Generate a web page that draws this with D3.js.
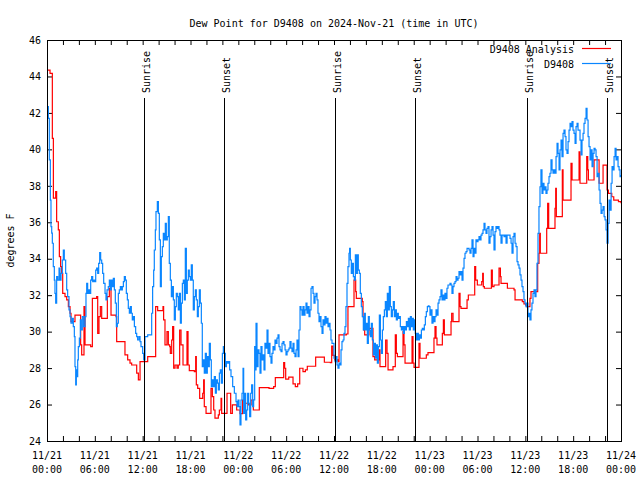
<!DOCTYPE html>
<html>
<head>
<meta charset="utf-8">
<script src="https://cdn.jsdelivr.net/npm/d3@7"></script>
<style>
  body { margin: 0; background: #fff; }
  svg { display: block; }
  text { font-family: "DejaVu Sans Mono", monospace; font-size: 10px; fill: #000; }
</style>
</head>
<body>
<svg id="chart" width="640" height="480"></svg>
<script>
// ---------- data ----------
const chartTitle = "Dew Point for D9408 on 2024-Nov-21 (time in UTC)";
const yAxisLabel = "degrees F";
const seriesNames = ["D9408 Analysis", "D9408"];

// hours since 2024-11-21 00:00 UTC
const xTickHours = [0, 6, 12, 18, 24, 30, 36, 42, 48, 54, 60, 66, 72];
const xTickDates = ["11/21","11/21","11/21","11/21","11/22","11/22","11/22","11/22","11/23","11/23","11/23","11/23","11/24"];
const xTickTimes = ["00:00","06:00","12:00","18:00","00:00","06:00","12:00","18:00","00:00","06:00","12:00","18:00","00:00"];
const xMinorTickHours = d3.range(0, 73, 2);
const yTicks = [24, 26, 28, 30, 32, 34, 36, 38, 40, 42, 44, 46];

const sunEventNames = ["Sunrise", "Sunset", "Sunrise", "Sunset", "Sunrise", "Sunset"];
const sunEventHours = [12.17, 22.2, 36.15, 46.18, 60.2, 70.24];

// D9408 Analysis  [hour, dew point F]
const analysisPoints = [
[0.00,44.35],[0.38,44.17],[0.67,40.60],[0.80,37.32],[1.09,37.68],[1.21,36.03],[1.42,35.58],[1.55,34.11],[1.71,33.57],[1.84,33.20],
[1.97,32.10],[2.26,31.92],[2.47,31.74],[2.68,31.37],[2.89,31.01],[3.01,30.55],[3.51,30.91],[4.22,29.27],[4.35,28.72],[4.64,31.37],
[4.77,29.27],[5.48,29.18],[5.69,31.83],[6.23,31.92],[6.36,29.91],[6.52,30.82],[6.69,31.37],[6.86,30.73],[7.57,31.92],[7.82,32.38],
[8.03,30.91],[8.66,30.82],[8.74,29.45],[9.78,28.72],[10.12,28.45],[10.41,28.27],[10.62,28.17],[11.25,27.72],[11.46,27.35],[11.67,28.35],
[11.79,28.35],[12.63,28.63],[13.63,31.37],[13.88,31.15],[14.55,31.37],[14.63,30.64],[14.80,29.27],[15.05,30.00],[15.22,29.27],[15.39,29.18],
[15.47,28.81],[15.64,29.54],[15.76,30.27],[15.89,27.99],[16.06,28.17],[16.31,27.99],[16.47,28.17],[16.64,30.09],[16.81,29.27],[17.06,28.17],
[17.56,30.00],[17.69,28.17],[17.85,27.86],[18.48,27.81],[18.65,28.63],[18.73,27.08],[18.90,26.89],[19.15,26.34],[19.53,26.62],[19.65,27.35],
[19.73,25.89],[19.95,25.52],[20.57,26.89],[20.74,26.43],[20.91,25.70],[21.07,25.25],[21.49,25.43],[21.62,25.70],[21.83,26.34],[21.91,25.52],
[22.58,26.62],[23.04,25.52],[23.25,25.98],[23.79,25.70],[24.21,25.50],[24.54,26.25],[24.84,26.07],[25.30,25.98],[25.60,26.25],[25.88,25.70],
[26.63,26.93],[27.85,26.89],[28.43,26.98],[28.64,27.48],[29.69,28.30],[29.81,27.99],[29.94,27.39],[30.32,27.50],[30.86,27.13],[31.15,26.98],
[31.44,27.13],[31.70,27.99],[32.11,27.81],[32.41,27.90],[32.65,28.10],[33.70,28.60],[34.79,28.32],[35.54,28.30],[35.71,29.21],[35.87,28.70],
[36.08,28.45],[36.50,28.35],[36.63,29.82],[37.55,29.87],[37.75,31.37],[38.51,32.83],[38.72,32.19],[38.80,31.83],[39.55,31.65],[39.64,30.82],
[39.72,30.09],[39.85,29.82],[40.39,30.18],[40.89,28.63],[41.10,28.45],[41.65,29.00],[41.77,28.08],[42.48,29.54],[42.65,28.81],[42.78,27.90],
[43.40,28.08],[43.69,29.82],[43.82,28.81],[43.95,28.63],[44.66,30.00],[44.78,29.27],[44.91,28.27],[45.79,29.73],[45.91,28.27],[46.04,28.04],
[46.66,29.36],[46.79,28.54],[47.58,28.72],[47.79,28.85],[48.54,29.64],[48.67,30.27],[48.80,29.64],[48.92,29.27],[49.59,29.91],[49.72,30.64],
[49.84,29.82],[50.68,30.55],[50.76,31.01],[50.93,30.55],[51.68,32.10],[51.81,31.37],[51.93,31.28],[52.69,31.74],[52.85,32.01],[53.65,33.57],
[53.77,32.83],[53.98,32.56],[54.53,32.74],[54.65,33.20],[54.73,32.47],[54.86,32.38],[55.74,33.38],[55.86,32.47],[56.07,32.56],[56.70,33.48],
[56.87,33.02],[56.95,32.65],[57.75,32.38],[58.58,32.29],[58.71,31.74],[59.62,31.65],[59.83,31.52],[60.04,31.46],[60.17,31.37],[60.58,31.83],
[60.71,32.19],[61.55,33.75],[61.71,34.30],[61.80,35.39],[61.88,34.30],[62.68,35.67],[62.80,37.04],[62.93,35.67],[63.72,36.77],[63.81,37.86],
[63.89,36.31],[64.64,38.87],[64.73,37.22],[65.73,39.23],[65.86,38.32],[66.74,39.87],[66.86,38.14],[67.70,39.60],[67.83,38.87],[67.91,38.32],
[68.62,39.42],[69.25,38.14],[69.75,39.14],[70.25,37.77],[70.42,37.59],[70.84,37.40],[71.09,37.22],[71.68,37.13],[72.00,37.04]
];

// D9408 observations  [hour, dew point F]
const observationPoints = [
[0.00,43.07],[0.04,42.34],[0.17,41.70],[0.29,39.42],[0.42,37.22],[0.50,35.76],[0.59,35.40],[0.67,34.85],[0.79,33.57],[0.92,32.83],
[1.00,32.10],[1.09,31.56],[1.21,33.02],[1.34,32.83],[1.51,33.48],[1.63,32.83],[1.76,33.20],[1.92,33.93],[2.05,34.48],[2.17,33.93],
[2.34,33.20],[2.47,32.29],[2.59,31.92],[2.76,31.19],[2.89,30.82],[3.01,30.46],[3.18,30.73],[3.30,30.27],[3.43,29.73],[3.51,28.08],
[3.60,27.08],[3.68,27.90],[3.76,27.53],[3.85,28.45],[3.93,29.18],[4.06,29.64],[4.18,30.64],[4.27,30.09],[4.43,30.82],[4.60,30.27],
[4.77,30.82],[4.89,32.10],[4.98,32.65],[5.10,32.10],[5.23,32.29],[5.35,32.10],[5.48,32.83],[5.60,33.02],[5.73,32.74],[5.85,32.83],
[5.98,32.74],[6.11,33.38],[6.23,33.48],[6.36,33.20],[6.48,33.75],[6.61,34.33],[6.73,33.93],[6.86,33.75],[6.98,33.20],[7.11,32.65],
[7.28,32.10],[7.40,31.74],[7.53,32.29],[7.69,32.47],[7.82,32.83],[7.95,32.29],[8.07,32.83],[8.20,32.47],[8.32,32.93],[8.45,32.29],
[8.57,31.56],[8.70,30.27],[8.82,30.46],[8.95,32.10],[9.07,32.29],[9.20,32.47],[9.33,32.29],[9.45,32.47],[9.58,32.74],[9.70,33.02],
[9.83,32.83],[9.95,32.10],[10.08,31.74],[10.20,31.28],[10.33,31.01],[10.45,31.37],[10.58,31.01],[10.70,30.64],[10.83,30.82],[10.96,30.27],
[11.12,29.91],[11.25,29.73],[11.37,29.54],[11.54,29.73],[11.67,29.45],
[11.79,29.18],[12.00,28.81],[12.13,28.45],[12.29,29.73],[12.63,29.82],[13.13,31.01],[13.25,32.47],[13.38,33.38],[13.46,34.48],[13.59,35.58],
[13.67,36.58],[13.84,37.13],[13.97,36.49],[14.09,35.03],[14.22,32.47],[14.34,34.11],[14.47,34.66],[14.59,35.39],[14.72,35.03],[14.84,35.94],
[14.97,35.03],[15.09,35.21],[15.22,36.31],[15.34,33.75],[15.47,32.83],[15.60,31.92],[15.72,32.47],[15.85,31.74],[15.97,30.64],[16.10,31.37],
[16.22,32.10],[16.35,31.92],[16.47,31.19],[16.60,32.10],[16.73,30.46],[16.85,31.56],[16.98,32.65],[17.10,32.83],[17.23,31.74],[17.35,34.57],
[17.48,32.10],[17.60,32.83],[17.73,33.38],[17.85,33.02],[17.98,32.83],[18.10,33.66],[18.23,32.83],[18.35,31.19],[18.48,31.92],[18.61,32.29],
[18.73,31.74],[18.86,30.82],[18.98,31.37],[19.11,32.29],[19.23,31.56],[19.36,30.46],[19.48,28.08],[19.61,28.45],[19.73,27.72],[19.86,28.81],
[19.99,27.72],[20.11,28.63],[20.24,28.08],[20.36,29.36],[20.49,28.45],[20.61,26.98],[20.74,27.35],[20.86,26.98],[20.99,27.53],[21.12,26.62],
[21.24,27.35],[21.37,27.17],[21.49,26.80],[21.62,27.72],[21.74,27.90],[21.87,27.17],[22.00,28.81],[22.12,29.18],[22.25,28.81],[22.37,28.08],
[22.50,28.35],[22.66,28.27],[22.79,28.35],[22.91,27.90],[23.08,27.53],[23.29,26.98],[23.50,26.62],[23.71,26.16],
[23.83,25.89],[23.96,26.25],[24.08,25.89],[24.21,24.88],[24.33,26.25],[24.46,26.62],[24.59,27.99],[24.67,25.52],[24.80,26.62],[24.92,25.16],
[25.05,25.70],[25.17,26.62],[25.30,26.07],[25.42,25.34],[25.55,26.62],[25.67,27.08],[25.80,25.89],[25.92,26.25],[26.05,29.18],[26.13,27.90],
[26.22,30.46],[26.34,28.08],[26.47,29.00],[26.59,28.81],[26.72,27.72],[26.84,29.18],[26.97,28.45],[27.09,28.72],[27.22,27.90],[27.34,29.36],
[27.47,29.09],[27.60,30.09],[27.72,28.81],[27.85,29.36],[27.97,28.63],[28.10,28.27],[28.22,28.81],[28.35,29.18],[28.48,29.00],[28.60,29.54],
[28.73,29.36],[28.85,29.64],[28.98,29.82],[29.10,29.18],[29.23,29.00],[29.36,28.90],[29.48,29.36],[29.61,29.45],[29.73,29.27],[29.86,29.00],
[29.98,28.72],[30.11,28.90],[30.23,29.00],[30.36,29.09],[30.48,29.45],[30.61,29.09],[30.73,28.90],[30.86,29.36],[30.98,28.81],[31.11,28.63],
[31.24,29.00],[31.36,29.54],[31.49,28.63],[31.61,30.09],[31.74,31.37],[31.86,31.19],[31.99,30.91],[32.11,31.37],[32.24,30.91],[32.36,31.19],
[32.49,31.56],[32.61,31.01],[32.74,31.37],[32.87,30.82],[32.99,31.19],[33.12,32.38],[33.24,32.47],[33.37,32.10],[33.49,31.56],[33.62,31.92],
[33.74,32.10],[33.87,31.74],[33.99,31.01],[34.12,30.55],[34.24,30.82],[34.37,30.27],[34.50,29.91],[34.62,30.64],[34.75,30.37],[34.87,30.82],
[35.00,30.46],[35.12,30.73],[35.25,30.27],[35.37,30.46],[35.50,30.09],[35.62,29.54],[35.75,29.36],
[35.88,29.36],[36.00,28.54],[36.13,28.35],[36.25,28.63],[36.38,28.17],[36.50,27.99],[36.63,28.27],[36.75,28.17],[36.88,29.00],[37.00,29.45],
[37.13,29.54],[37.25,29.91],[37.38,30.27],[37.50,31.37],[37.63,32.65],[37.75,33.57],[37.88,34.30],[37.96,34.57],[38.05,33.93],[38.17,33.20],
[38.30,33.75],[38.43,33.02],[38.55,32.83],[38.68,34.21],[38.80,33.20],[38.93,34.21],[39.05,33.38],[39.18,33.20],[39.30,32.10],[39.43,31.37],
[39.55,30.82],[39.68,30.09],[39.81,31.01],[39.93,30.09],[40.06,30.46],[40.18,29.36],[40.31,30.82],[40.43,30.09],[40.56,29.73],[40.68,30.46],
[40.81,29.54],[40.94,28.72],[41.06,29.36],[41.19,28.54],[41.31,29.27],[41.44,28.27],[41.56,29.18],[41.69,30.91],[41.82,29.54],[41.94,28.81],
[42.07,30.09],[42.19,30.82],[42.32,31.19],[42.44,31.65],[42.57,30.82],[42.69,32.10],[42.82,31.19],[42.94,32.47],[43.07,31.37],[43.19,30.82],
[43.32,31.19],[43.44,31.65],[43.57,30.82],[43.69,31.19],[43.82,30.64],[43.95,31.01],[44.07,30.73],[44.20,30.82],[44.32,30.27],[44.45,30.09],
[44.57,30.27],[44.70,29.91],[44.83,30.27],[44.95,30.09],[45.08,30.55],[45.20,30.27],[45.33,30.73],[45.45,30.09],[45.58,30.82],[45.70,30.27],
[45.83,30.73],[45.95,30.09],[46.08,30.64],[46.20,29.91],[46.33,29.54],[46.45,29.91],[46.58,29.54],[46.71,29.82],[46.83,29.64],[46.96,30.09],
[47.08,30.18],[47.21,30.09],[47.33,30.37],[47.46,30.82],[47.58,31.10],[47.71,31.37],[47.83,31.41],
[47.92,31.37],[48.04,30.91],[48.17,31.19],[48.29,30.46],[48.42,30.82],[48.54,30.55],[48.67,30.82],[48.80,31.19],[48.92,30.91],[49.05,31.56],
[49.17,31.74],[49.30,31.92],[49.42,32.29],[49.55,31.74],[49.67,32.01],[49.80,31.74],[49.92,32.10],[50.05,31.83],[50.17,32.38],[50.30,32.56],
[50.43,32.56],[50.55,32.65],[50.68,32.56],[50.80,32.10],[50.93,32.47],[51.05,32.65],[51.18,32.74],[51.31,33.02],[51.43,32.83],[51.56,32.93],
[51.68,33.29],[51.81,33.11],[51.93,33.29],[52.06,32.83],[52.18,33.48],[52.31,34.02],[52.43,34.30],[52.56,34.39],[52.69,34.57],[52.81,34.57],
[52.94,34.48],[53.06,34.30],[53.19,34.57],[53.31,35.03],[53.44,34.11],[53.56,34.57],[53.69,34.30],[53.81,35.03],[53.94,34.94],[54.06,35.03],
[54.19,35.21],[54.32,35.03],[54.44,35.30],[54.57,35.39],[54.69,35.58],[54.82,35.94],[54.94,35.58],[55.07,35.39],[55.19,35.67],[55.32,35.76],
[55.44,34.85],[55.57,35.21],[55.70,35.58],[55.82,35.76],[55.95,35.30],[56.07,34.48],[56.20,35.49],[56.32,35.76],[56.45,35.67],[56.57,35.76],
[56.70,35.58],[56.82,35.30],[56.95,34.85],[57.08,35.30],[57.20,35.30],[57.33,35.21],[57.45,35.30],[57.58,34.85],[57.71,35.30],[57.83,35.30],
[57.96,35.30],[58.08,35.12],[58.21,34.85],[58.33,34.30],[58.46,35.21],[58.58,35.39],[58.71,34.85],[58.83,34.66],[58.96,33.84],[59.08,33.66],
[59.21,33.48],[59.33,33.11],[59.46,32.83],[59.58,32.47],[59.71,32.19],[59.83,31.74],[59.96,31.56],
[60.08,31.37],[60.21,31.56],[60.33,30.82],[60.46,31.01],[60.58,30.64],[60.71,31.19],[60.83,31.56],[60.96,32.10],[61.09,32.29],[61.21,31.92],
[61.34,32.29],[61.46,33.75],[61.59,35.39],[61.71,36.86],[61.84,37.95],[61.96,38.87],[62.09,37.59],[62.21,38.14],[62.34,37.77],[62.46,37.95],
[62.59,37.59],[62.72,37.77],[62.84,38.14],[62.97,38.50],[63.09,38.69],[63.22,39.42],[63.35,38.87],[63.47,38.69],[63.60,38.87],[63.72,38.69],
[63.85,39.60],[63.98,40.33],[64.10,39.78],[64.23,38.87],[64.35,39.97],[64.48,40.51],[64.60,39.60],[64.73,40.88],[64.85,41.06],[64.98,40.70],
[65.10,39.97],[65.23,39.78],[65.36,40.42],[65.48,41.06],[65.61,41.43],[65.73,41.25],[65.86,41.52],[65.98,41.06],[66.11,40.88],[66.24,40.33],
[66.36,41.25],[66.49,41.43],[66.61,41.06],[66.74,41.06],[66.86,40.51],[66.99,39.69],[67.11,40.51],[67.24,40.88],[67.36,41.43],[67.49,41.70],
[67.62,42.25],[67.74,41.61],[67.87,40.70],[67.99,40.15],[68.12,39.42],[68.24,39.97],[68.37,39.05],[68.50,39.78],[68.62,40.06],[68.75,39.97],
[68.87,39.60],[69.00,38.50],[69.12,38.69],[69.25,37.77],[69.37,37.04],[69.50,36.49],[69.63,36.67],[69.75,36.86],[69.88,36.31],[70.00,36.13],
[70.13,35.58],[70.25,34.85],[70.38,35.94],[70.50,37.22],[70.63,36.67],[70.76,38.14],[70.88,39.05],[71.01,38.87],[71.13,39.60],[71.26,40.06],
[71.38,39.42],[71.51,39.60],[71.63,39.05],[71.76,38.87],[71.88,38.50],[72.00,38.59]
];

const seriesColors = ["#ff0000", "#0a86ff"];

// ---------- layout ----------
const L = 47, R = 621, T = 40, B = 441;
const svg = d3.select("#chart");
const x = d3.scaleLinear().domain([0, 72]).range([L, R]);
const y = d3.scaleLinear().domain([24, 46]).range([B, T]);

svg.append("defs").append("clipPath").attr("id", "plotclip")
  .append("rect").attr("x", L).attr("y", T).attr("width", R - L).attr("height", B - T);

// title
svg.append("text").attr("x", (L + R) / 2).attr("y", 27).attr("text-anchor", "middle").text(chartTitle);

// y label
svg.append("text").attr("transform", `translate(14,${(T + B) / 2}) rotate(-90)`)
  .attr("text-anchor", "middle").text(yAxisLabel);

function styleAxis(g) {
  g.attr("font-family", null).attr("font-size", null);
  g.select(".domain").remove();
  g.selectAll(".tick line").attr("stroke", "#000");
}

// axes (inward ticks, mirrored)
svg.append("g").attr("transform", `translate(${L},0)`)
  .call(d3.axisLeft(y).tickValues(yTicks).tickSizeInner(-5).tickSizeOuter(0).tickPadding(6).tickFormat(d3.format("d")))
  .call(styleAxis);
svg.append("g").attr("transform", `translate(${R},0)`)
  .call(d3.axisRight(y).tickValues(yTicks).tickSizeInner(-5).tickSizeOuter(0).tickFormat(""))
  .call(styleAxis);
svg.append("g").attr("transform", `translate(0,${B})`)
  .call(d3.axisBottom(x).tickValues(xMinorTickHours).tickSizeInner(-5).tickSizeOuter(0).tickFormat(""))
  .call(styleAxis);
svg.append("g").attr("transform", `translate(0,${T})`)
  .call(d3.axisTop(x).tickValues(xMinorTickHours).tickSizeInner(-5).tickSizeOuter(0).tickFormat(""))
  .call(styleAxis);

// x tick labels (two lines)
const xl = svg.append("g").selectAll("text").data(xTickHours).join("text")
  .attr("x", d => x(d)).attr("y", 459).attr("text-anchor", "middle");
xl.append("tspan").attr("x", d => x(d)).text((d, i) => xTickDates[i]);
xl.append("tspan").attr("x", d => x(d)).attr("dy", 14).text((d, i) => xTickTimes[i]);

// series
const line = d3.line().x(d => x(d[0])).y(d => y(d[1])).curve(d3.curveStepAfter);
const plot = svg.append("g").attr("clip-path", "url(#plotclip)");
[analysisPoints, observationPoints].forEach((pts, i) => {
  plot.append("path").datum(pts).attr("d", line)
    .attr("fill", "none").attr("stroke", seriesColors[i]).attr("stroke-width", 1.2);
});

// sunrise / sunset markers
sunEventHours.forEach((h, i) => {
  const px = Math.round(x(h)) + 0.5;
  svg.append("line").attr("x1", px).attr("x2", px).attr("y1", 98).attr("y2", B)
    .attr("stroke", "#000").attr("stroke-width", 1);
  svg.append("text").attr("transform", `translate(${px + 5},93) rotate(-90)`)
    .attr("text-anchor", "start").text(sunEventNames[i]);
});

// frame
svg.append("rect").attr("x", L + 0.5).attr("y", T + 0.5).attr("width", R - L).attr("height", B - T)
  .attr("fill", "none").attr("stroke", "#000").attr("stroke-width", 1);

// legend
seriesNames.forEach((name, i) => {
  const ly = 48.5 + i * 15;
  svg.append("text").attr("x", 574).attr("y", ly + 4).attr("text-anchor", "end").text(name);
  svg.append("line").attr("x1", 582).attr("x2", 611).attr("y1", ly).attr("y2", ly)
    .attr("stroke", seriesColors[i]).attr("stroke-width", 1.2);
});
</script>
</body>
</html>
